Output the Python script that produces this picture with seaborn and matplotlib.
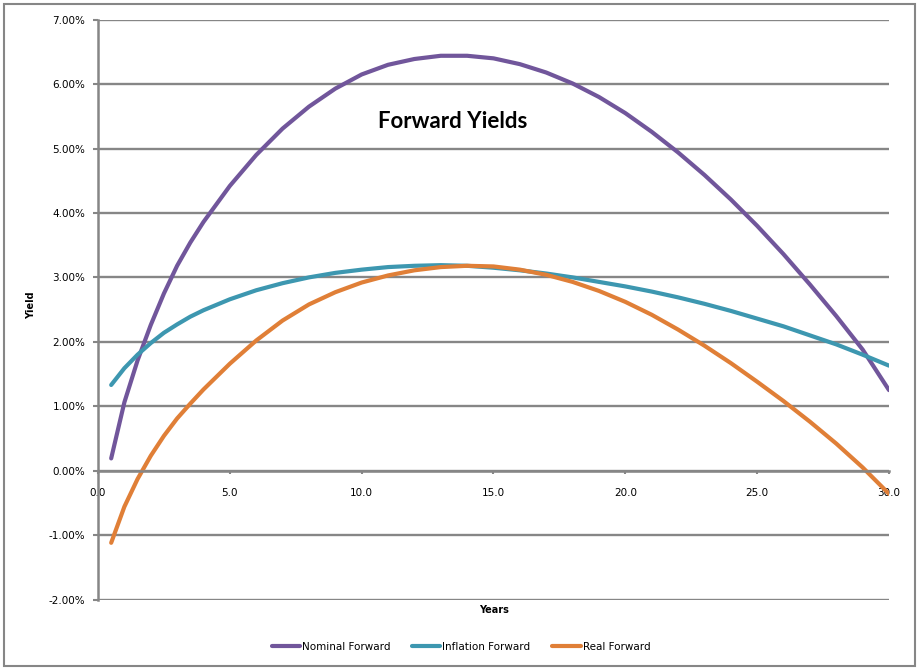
import matplotlib
matplotlib.use("Agg")
import matplotlib.pyplot as plt
from matplotlib.patches import Rectangle
from matplotlib.ticker import FuncFormatter
import seaborn as sns
import pandas as pd

# ---- data ----
years = [0.5, 1, 1.5, 2, 2.5, 3, 3.5, 4, 5, 6, 7, 8, 9, 10, 11, 12, 13, 14,
         15, 16, 17, 18, 19, 20, 21, 22, 23, 24, 25, 26, 27, 28, 29, 30]
nominal = [0.19, 1.06, 1.71, 2.26, 2.75, 3.18, 3.54, 3.86, 4.42, 4.90, 5.31,
           5.65, 5.93, 6.15, 6.30, 6.39, 6.44, 6.44, 6.40, 6.31, 6.18, 6.01,
           5.80, 5.55, 5.26, 4.94, 4.59, 4.21, 3.80, 3.36, 2.89, 2.40, 1.88,
           1.25]
inflation = [1.33, 1.59, 1.80, 1.98, 2.14, 2.27, 2.39, 2.49, 2.66, 2.80, 2.91,
             3.00, 3.07, 3.12, 3.16, 3.18, 3.19, 3.18, 3.15, 3.11, 3.06, 3.00,
             2.93, 2.86, 2.78, 2.69, 2.59, 2.48, 2.36, 2.24, 2.10, 1.96, 1.80,
             1.63]
real = [-1.12, -0.56, -0.13, 0.23, 0.54, 0.81, 1.04, 1.26, 1.66, 2.02, 2.33,
        2.58, 2.77, 2.92, 3.03, 3.11, 3.16, 3.18, 3.17, 3.12, 3.04, 2.93, 2.79,
        2.62, 2.42, 2.19, 1.94, 1.67, 1.38, 1.08, 0.76, 0.42, 0.05, -0.36]
series_names = ["Nominal Forward", "Inflation Forward", "Real Forward"]
x_ticks = [0, 5, 10, 15, 20, 25, 30]
y_ticks = [-2, -1, 0, 1, 2, 3, 4, 5, 6, 7]

df = pd.concat([
    pd.DataFrame({"Years": years, "Yield": nominal, "Series": series_names[0]}),
    pd.DataFrame({"Years": years, "Yield": inflation, "Series": series_names[1]}),
    pd.DataFrame({"Years": years, "Yield": real, "Series": series_names[2]}),
], ignore_index=True)

sns.set_style("white")
plt.rcParams["font.family"] = ["DejaVu Sans"]
plt.rcParams["text.color"] = "black"
plt.rcParams["xtick.color"] = "black"
plt.rcParams["ytick.color"] = "black"

W, H = 920, 671
fig = plt.figure(figsize=(W / 100, H / 100), dpi=100)
ax = fig.add_axes([98 / W, 1 - 599.5 / H, (889 - 98) / W, (599.5 - 19.7) / H])

grid_c = "#868686"
palette = {"Nominal Forward": "#71569B", "Inflation Forward": "#3D97B0",
           "Real Forward": "#E07F37"}

sns.lineplot(data=df, x="Years", y="Yield", hue="Series", palette=palette,
             linewidth=3, ax=ax, legend=True, sort=False)

ax.set_xlim(0, 30)
ax.set_ylim(-2, 7)
ax.set_xticks(x_ticks)
ax.set_yticks(y_ticks)
ax.xaxis.set_major_formatter(FuncFormatter(lambda v, p: f"{v:.1f}"))
ax.yaxis.set_major_formatter(FuncFormatter(lambda v, p: f"{v:.2f}%"))
ax.set_xlabel("")
ax.set_ylabel("")

ax.grid(axis="y", color=grid_c, linewidth=1.7)
ax.grid(axis="x", visible=False)
ax.set_axisbelow(True)
for s in ["top", "right"]:
    ax.spines[s].set_visible(False)
ax.spines["left"].set_color(grid_c)
ax.spines["left"].set_linewidth(1.8)
ax.spines["bottom"].set_color(grid_c)
ax.spines["bottom"].set_linewidth(1.8)
ax.spines["bottom"].set_position(("data", 0))

ax.tick_params(axis="y", direction="out", length=3.6, width=1.5, color=grid_c,
               labelcolor="black", pad=5.5, labelsize=7.5, left=True)
ax.tick_params(axis="x", direction="out", length=2.2, width=1.5, color=grid_c,
               labelcolor="black", pad=10, labelsize=7.5, bottom=True)

fig.text(453 / W, 1 - 122 / H, "Forward Yields", fontsize=16,
         fontweight="bold", family=["Lato", "DejaVu Sans"], color="black",
         ha="center", va="center")

fig.text(31 / W, 1 - 305 / H, "Yield", rotation=90, fontsize=7,
         fontweight="bold", ha="center", va="center", color="black")
fig.text(494 / W, 1 - 610 / H, "Years", fontsize=7, fontweight="bold",
         ha="center", va="center", color="black")

leg = ax.legend(loc="center", bbox_to_anchor=(461 / W, 1 - 647 / H),
                bbox_transform=fig.transFigure, ncol=3, frameon=False,
                fontsize=7.5, handlelength=2.7, handletextpad=0.2,
                columnspacing=2.1)
for line in leg.get_lines():
    line.set_linewidth(3)
for t in leg.get_texts():
    t.set_color("black")

fig.patches.append(Rectangle((4 / W, 1 - 666 / H), 911 / W, 662 / H,
                             transform=fig.transFigure, fill=False,
                             edgecolor=grid_c, linewidth=1.5))

fig.savefig("out.png", dpi=100)
